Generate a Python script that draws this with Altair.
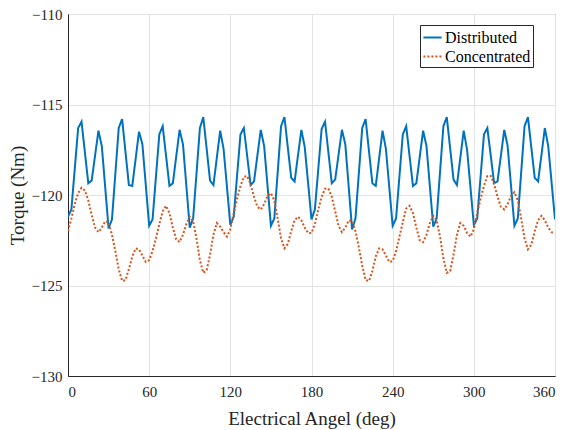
import altair as alt
import pandas as pd

# Distributed winding torque (vertices of the plotted polyline)
dist_angle = [
    0, 2.5, 7.5, 10, 15, 17.5, 22.5, 25,
    30, 32.5, 37.5, 40, 45, 47.5, 52.5, 55,
    60, 62.5, 67.5, 70, 75, 77.5, 82.5, 85,
    90, 92.5, 97.5, 100, 105, 107.5, 112.5, 115,
    120, 122.5, 127.5, 130, 135, 137.5, 142.5, 145,
    150, 152.5, 157.5, 160, 165, 167.5, 172.5, 175,
    180, 182.5, 187.5, 190, 195, 197.5, 202.5, 205,
    210, 212.5, 217.5, 220, 225, 227.5, 232.5, 235,
    240, 242.5, 247.5, 250, 255, 257.5, 262.5, 265,
    270, 272.5, 277.5, 280, 285, 287.5, 292.5, 295,
    300, 302.5, 307.5, 310, 315, 317.5, 322.5, 325,
    330, 332.5, 337.5, 340, 345, 347.5, 352.5, 355,
    360,
]
dist_torque = [
    -121.2, -120.8, -116.3, -115.95, -119.35, -119.2, -116.45, -117.3,
    -121.85, -121.35, -116.3, -115.8, -119.45, -119.5, -116.5, -117.2,
    -121.7, -121.35, -116.65, -116.2, -119.5, -119.35, -116.4, -117.2,
    -121.8, -121.3, -116.3, -115.7, -119.2, -119.45, -116.45, -117.45,
    -121.65, -121.2, -116.65, -116.3, -119.45, -119.25, -116.4, -117.3,
    -121.7, -121.3, -116.2, -115.7, -119.05, -119.25, -116.4, -117.35,
    -121.35, -120.8, -116.35, -115.95, -119.35, -119.15, -116.4, -117.2,
    -121.9, -121.3, -116.3, -115.8, -119.35, -119.5, -116.45, -117.45,
    -121.7, -121.3, -116.65, -116.2, -119.5, -119.35, -116.45, -117.3,
    -121.75, -121.3, -116.2, -115.7, -119.15, -119.45, -116.45, -117.5,
    -121.65, -121.3, -116.65, -116.3, -119.35, -119.25, -116.4, -117.3,
    -121.7, -121.3, -116.2, -115.7, -119.05, -119.25, -116.3, -117.3,
    -121.35,
]

# Concentrated winding torque, sampled every 2.5 deg
conc_angle = [i * 2.5 for i in range(145)]
conc_torque = [
    -122.0, -121.3, -120.5, -119.9, -119.6, -119.75, -120.3, -121.1, -121.8, -122.05,
    -121.8, -121.45, -121.5, -122.2, -123.1, -124.1, -124.75, -124.7, -124.1, -123.4,
    -122.95, -123.0, -123.35, -123.7, -123.6, -123.1, -122.4, -121.6, -120.9, -120.6,
    -121.0, -121.8, -122.45, -122.6, -122.2, -121.6, -121.2, -121.45, -122.4, -123.6,
    -124.3, -124.15, -123.3, -122.2, -121.55, -121.75, -122.05, -122.3, -121.9, -121.0,
    -120.2, -119.5, -119.0, -118.95, -119.4, -120.1, -120.65, -120.8, -120.5, -120.05,
    -119.9, -120.3, -121.3, -122.4, -122.95, -122.7, -122.0, -121.4, -121.2, -121.4,
    -121.8, -122.1, -122.1, -121.6, -120.8, -120.1, -119.65, -119.65, -120.1, -120.9,
    -121.7, -122.05, -121.8, -121.4, -121.45, -122.0, -122.9, -123.9, -124.7, -124.75,
    -124.2, -123.4, -122.95, -123.0, -123.35, -123.7, -123.65, -123.1, -122.3, -121.5,
    -120.75, -120.6, -121.0, -121.8, -122.5, -122.6, -122.2, -121.55, -121.15, -121.4,
    -122.3, -123.5, -124.3, -124.2, -123.3, -122.2, -121.55, -121.7, -122.1, -122.3,
    -121.9, -121.0, -120.2, -119.5, -118.95, -118.95, -119.4, -120.1, -120.65, -120.8,
    -120.5, -120.05, -119.85, -120.3, -121.3, -122.4, -123.0, -122.75, -122.0, -121.4,
    -121.15, -121.4, -121.8, -122.05, -122.1,
]

series_names = ["Distributed", "Concentrated"]
series_colors = ["#0072BD", "#D95319"]
x_ticks = [0, 60, 120, 180, 240, 300, 360]
y_ticks = [-130, -125, -120, -115, -110]

df = pd.concat([
    pd.DataFrame({"angle": dist_angle, "torque": dist_torque, "series": series_names[0], "order": range(len(dist_angle))}),
    pd.DataFrame({"angle": conc_angle, "torque": conc_torque, "series": series_names[1], "order": range(len(conc_angle))}),
])

FONT = "Liberation Serif, Times New Roman, serif"
TXT = "#262626"

x_axis = alt.Axis(values=x_ticks, format="d", labelPadding=8, titlePadding=10,
                  labelFont=FONT, labelFontSize=15, labelColor=TXT,
                  titleFont=FONT, titleFontSize=19, titleFontWeight="normal", titleColor=TXT)
y_axis = alt.Axis(values=y_ticks, format="d", labelPadding=6, titlePadding=4,
                  labelFont=FONT, labelFontSize=15, labelColor=TXT,
                  titleFont=FONT, titleFontSize=19, titleFontWeight="normal", titleColor=TXT)
legend = alt.Legend(orient="none", legendX=352, legendY=11,
                    labelFont=FONT, labelFontSize=16, labelColor="#000000")

chart = alt.Chart(df).mark_line(strokeWidth=2, clip=True).encode(
    x=alt.X("angle:Q", title="Electrical Angel (deg)",
            scale=alt.Scale(domain=[0, 360], nice=False, zero=False), axis=x_axis),
    y=alt.Y("torque:Q", title="Torque (Nm)",
            scale=alt.Scale(domain=[-130, -110], nice=False, zero=False), axis=y_axis),
    color=alt.Color("series:N", title=None,
                    scale=alt.Scale(domain=series_names, range=series_colors), legend=legend),
    strokeDash=alt.StrokeDash("series:N", title=None,
                              scale=alt.Scale(domain=series_names, range=[[1, 0], [2, 2]]),
                              legend=legend),
    order="order:Q",
).properties(
    width=487, height=362,
    autosize=alt.AutoSizeParams(type="none"),
    padding={"left": 60, "top": 6, "right": 6, "bottom": 54},
).configure(
    font=FONT,
).configure_view(
    stroke="#262626", strokeWidth=1,
).configure_axis(
    domainColor="#262626", domainWidth=1, ticks=False, tickSize=0,
    gridColor="#e3e3e3", gridWidth=1, gridOpacity=1,
).configure_legend(
    symbolType="stroke", symbolSize=330, symbolStrokeWidth=2,
    fillColor="#ffffff", strokeColor="#262626", padding=2, cornerRadius=0,
    rowPadding=0, labelOffset=2, symbolOffset=0,
)

chart.save("out.html", embed_options={"renderer": "svg", "actions": False})
